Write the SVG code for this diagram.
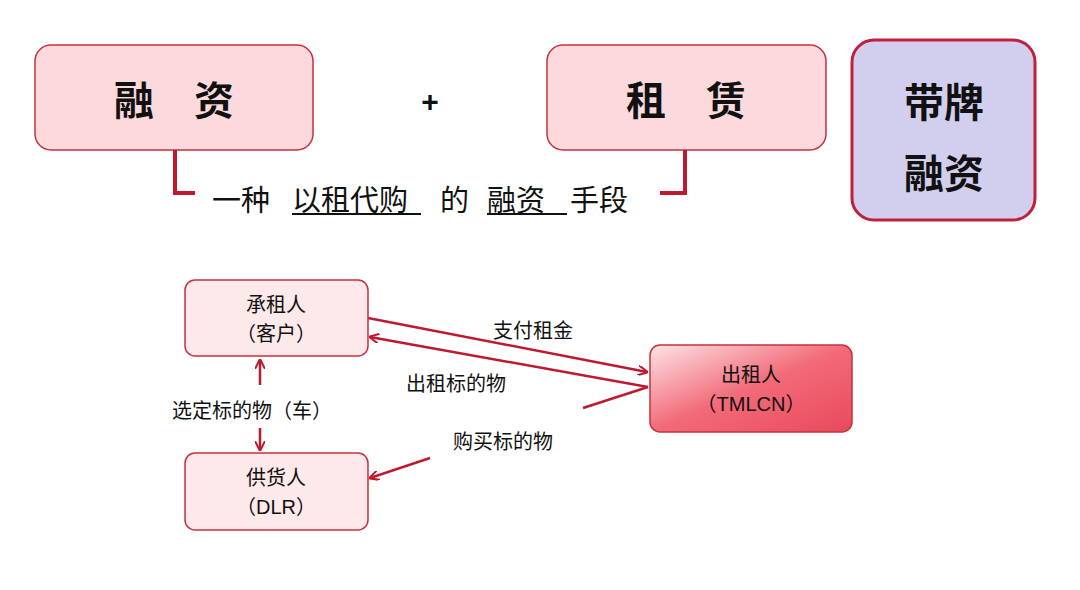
<svg xmlns="http://www.w3.org/2000/svg" width="1080" height="590" viewBox="0 0 1080 590">
<defs>
<style>
.t{font-family:"Liberation Sans","Noto Sans CJK SC",sans-serif;fill:#111;text-anchor:middle}
.big{font-size:40px;font-weight:bold}
.cap{font-size:29px;text-anchor:start}
.sm{font-size:20px}
.top{fill:#fcd9dc;stroke:#c8303e;stroke-width:1.5}
.low{fill:#fde9ea;stroke:#c8303e;stroke-width:1.5}
.ln{stroke:#c0182e;stroke-width:2.5;fill:none}
.br{stroke:#c0182e;stroke-width:4;fill:none}
.ul{stroke:#111;stroke-width:2}
</style>
<linearGradient id="g" x1="0" y1="0" x2="1" y2="1">
<stop offset="0" stop-color="#fde4e6"/><stop offset="0.5" stop-color="#f26a78"/><stop offset="1" stop-color="#e84a5a"/>
</linearGradient>
<marker id="a" markerWidth="10" markerHeight="10" refX="9" refY="5" orient="auto" markerUnits="userSpaceOnUse" viewBox="0 0 10 10"><path d="M0,0 L10,5 L0,10" fill="none" stroke="#c0182e" stroke-width="2"/></marker>
</defs>
<rect width="1080" height="590" fill="#fff"/>
<g id="n-rongzi"><rect class="top" x="35" y="45" width="278" height="105" rx="16"/><text class="t big" x="174" y="115">融　资</text></g>
<text class="t big" x="430" y="112" style="font-size:30px">+</text>
<g id="n-zulin"><rect class="top" x="547" y="45" width="279" height="105" rx="16"/><text class="t big" x="686" y="115">租　赁</text></g>
<g id="n-daipai"><rect x="852" y="40" width="183" height="180" rx="22" fill="#d2cfee" stroke="#c0203a" stroke-width="3"/><text class="t big" x="944" y="117">带牌</text><text class="t big" x="944" y="188">融资</text></g>
<g id="connectors">
<path class="br" d="M175,150 V193 H195"/>
<path class="br" d="M685,150 V193 H660"/>
<line class="ln" x1="368" y1="318" x2="647" y2="372" marker-end="url(#a)"/>
<line class="ln" x1="648" y1="387" x2="370" y2="337" marker-end="url(#a)"/>
<line class="ln" x1="583" y1="408" x2="648" y2="387"/>
<line class="ln" x1="430" y1="458" x2="370" y2="478" marker-end="url(#a)"/>
<line class="ln" x1="260" y1="385" x2="260" y2="360" marker-end="url(#a)"/>
<line class="ln" x1="260" y1="428" x2="260" y2="450" marker-end="url(#a)"/>
</g>
<g id="caption">
<text class="t cap" x="212" y="211">一种</text>
<text class="t cap" x="292" y="211">以租代购</text>
<text class="t cap" x="440" y="211">的</text>
<text class="t cap" x="487" y="211">融资</text>
<text class="t cap" x="570" y="211">手段</text>
<line class="ul" x1="292" y1="214" x2="421" y2="214"/>
<line class="ul" x1="487" y1="214" x2="567" y2="214"/>
</g>
<g id="n-chengzu"><rect class="low" x="185" y="280" width="183" height="76" rx="10"/><text class="t sm" x="276" y="312">承租人</text><text class="t sm" x="276" y="341">（客户）</text></g>
<g id="n-gonghuo"><rect class="low" x="185" y="453" width="183" height="77" rx="10"/><text class="t sm" x="276" y="485">供货人</text><text class="t sm" x="276" y="514">（DLR）</text></g>
<g id="n-chuzu"><rect x="650" y="345" width="202" height="87" rx="10" fill="url(#g)" stroke="#c8303e" stroke-width="1.5"/><text class="t sm" x="751" y="382">出租人</text><text class="t sm" x="751" y="411">（TMLCN）</text></g>
<text class="t sm" x="533" y="338">支付租金</text>
<text class="t sm" x="456" y="391">出租标的物</text>
<text class="t sm" x="252" y="418">选定标的物（车）</text>
<text class="t sm" x="503" y="449">购买标的物</text>
</svg>
